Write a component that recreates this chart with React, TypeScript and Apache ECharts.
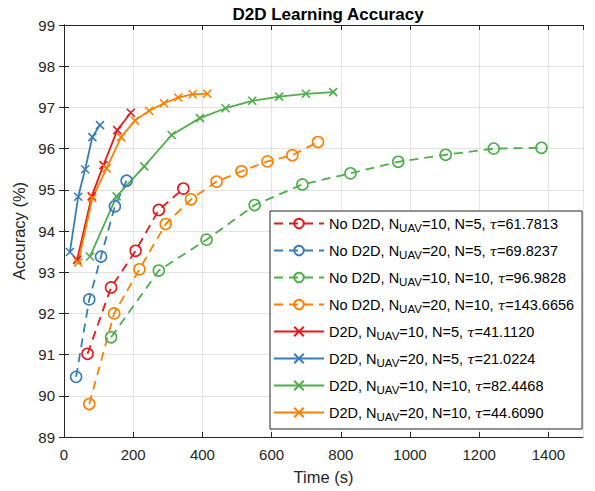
import React, { useEffect, useRef } from "react";
import * as echarts from "echarts";

const COLORS = { red: "#E41A1C", blue: "#377EB8", green: "#4DAF4A", orange: "#FF7F00" };

// No D2D series
const noD2D_10_5_x = [68, 136, 207, 274, 345];
const noD2D_10_5_y = [91.02, 92.63, 93.52, 94.51, 95.03];
const noD2D_20_5_x = [35, 73, 107, 147, 181];
const noD2D_20_5_y = [90.46, 92.34, 93.38, 94.6, 95.22];
const noD2D_10_10_x = [136, 274, 412, 551, 689, 828, 966, 1103, 1242, 1380];
const noD2D_10_10_y = [91.42, 93.04, 93.79, 94.63, 95.13, 95.4, 95.68, 95.85, 96.0, 96.02];
const noD2D_20_10_x = [73, 145, 218, 294, 367, 441, 513, 588, 660, 734];
const noD2D_20_10_y = [89.8, 92.0, 93.07, 94.17, 94.77, 95.2, 95.45, 95.69, 95.84, 96.16];

// D2D series
const d2d_10_5_x = [38, 80, 114, 154, 193];
const d2d_10_5_y = [93.3, 94.84, 95.6, 96.45, 96.87];
const d2d_20_5_x = [17, 41, 61, 82, 104];
const d2d_20_5_y = [93.49, 94.83, 95.5, 96.28, 96.57];
const d2d_10_10_x = [75, 152, 232, 311, 393, 467, 544, 622, 699, 778];
const d2d_10_10_y = [93.38, 94.84, 95.57, 96.33, 96.74, 96.98, 97.16, 97.26, 97.33, 97.37];
const d2d_20_10_x = [41, 82, 123, 165, 205, 246, 289, 330, 372, 414];
const d2d_20_10_y = [93.24, 94.8, 95.52, 96.28, 96.68, 96.92, 97.1, 97.24, 97.32, 97.33];

const legendNames = [
  "No D2D, N{sub|UAV}=10, N=5, {tau|τ}=61.7813",
  "No D2D, N{sub|UAV}=20, N=5, {tau|τ}=69.8237",
  "No D2D, N{sub|UAV}=10, N=10, {tau|τ}=96.9828",
  "No D2D, N{sub|UAV}=20, N=10, {tau|τ}=143.6656",
  "D2D, N{sub|UAV}=10, N=5, {tau|τ}=41.1120",
  "D2D, N{sub|UAV}=20, N=5, {tau|τ}=21.0224",
  "D2D, N{sub|UAV}=10, N=10, {tau|τ}=82.4468",
  "D2D, N{sub|UAV}=20, N=10, {tau|τ}=44.6090",
];

const xTicks = { min: 0, max: 1500, interval: 200 };
const yTicks = { min: 89, max: 99, interval: 1 };

const CROSS = "path://M0,0L10,10M10,0L0,10";

function zip(xs: number[], ys: number[]) {
  return xs.map((x, i) => [x, ys[i]]);
}

export default function App() {
  const ref = useRef<HTMLDivElement>(null);
  useEffect(() => {
    if (!ref.current) return;
    const chart = echarts.init(ref.current, null, { renderer: "svg" });
    const font = "Liberation Sans";
    const dashed = (name: string, color: string, xs: number[], ys: number[]) => ({
      name,
      type: "line",
      data: zip(xs, ys),
      symbol: "circle",
      symbolSize: 11,
      lineStyle: { color, width: 1.8, type: [9, 6] },
      itemStyle: { color: "none", borderColor: color, borderWidth: 1.6 },
    });
    const solid = (name: string, color: string, xs: number[], ys: number[]) => ({
      name,
      type: "line",
      data: zip(xs, ys),
      symbol: CROSS,
      symbolSize: 8,
      lineStyle: { color, width: 1.8, type: "solid" },
      itemStyle: { color, borderColor: color, borderWidth: 1.6 },
    });
    const axisLine = { show: true, lineStyle: { color: "#262626", width: 1 } };
    const splitLine = { show: true, lineStyle: { color: "#e3e3e3", width: 1 } };
    const plain = (v: number) => String(v);
    chart.setOption({
      animation: false,
      backgroundColor: "#ffffff",
      title: {
        text: "D2D Learning Accuracy",
        left: 323,
        textAlign: "center",
        top: 1,
        textStyle: { fontFamily: font, fontSize: 17, fontWeight: "bold", color: "#000" },
      },
      grid: { left: 64, right: 12, top: 25, bottom: 54 },
      legend: {
        orient: "vertical",
        left: 270,
        top: 211,
        width: 306,
        itemWidth: 50,
        itemHeight: 12,
        itemGap: 6,
        padding: [2, 8, 6, 3],
        borderColor: "#262626",
        borderWidth: 1,
        backgroundColor: "#ffffff",
        data: legendNames,
        textStyle: {
          fontFamily: font,
          fontSize: 14.5,
          color: "#000",
          lineHeight: 18,
          rich: {
            sub: { fontFamily: font, fontSize: 11.5, color: "#000", padding: [9, 0, 0, 0], lineHeight: 18 },
            tau: { fontFamily: "DejaVu Serif", fontStyle: "italic", fontSize: 13.5, color: "#000", lineHeight: 18 },
          },
        },
      },
      xAxis: [
        {
          type: "value",
          ...xTicks,
          position: "bottom",
          axisLine,
          axisTick: { show: true, inside: true, length: 5, lineStyle: { color: "#262626" } },
          axisLabel: { fontFamily: font, fontSize: 15, color: "#262626", margin: 10, showMaxLabel: false, formatter: plain },
          splitLine,
          name: "Time (s)",
          nameLocation: "middle",
          nameGap: 31,
          nameTextStyle: { fontFamily: font, fontSize: 16.5, color: "#262626" },
        },
        {
          type: "value",
          ...xTicks,
          position: "top",
          axisLine,
          axisTick: { show: true, inside: true, length: 5, lineStyle: { color: "#262626" } },
          axisLabel: { show: false },
          splitLine: { show: false },
        },
      ],
      yAxis: [
        {
          type: "value",
          ...yTicks,
          position: "left",
          axisLine,
          axisTick: { show: true, inside: true, length: 5, lineStyle: { color: "#262626" } },
          axisLabel: { fontFamily: font, fontSize: 15, color: "#262626", margin: 9, formatter: plain },
          splitLine,
          name: "Accuracy (%)",
          nameLocation: "middle",
          nameGap: 30,
          nameTextStyle: { fontFamily: font, fontSize: 16.5, color: "#262626" },
        },
        {
          type: "value",
          ...yTicks,
          position: "right",
          axisLine,
          axisTick: { show: true, inside: true, length: 5, lineStyle: { color: "#262626" } },
          axisLabel: { show: false },
          splitLine: { show: false },
        },
      ],
      series: [
        dashed(legendNames[0], COLORS.red, noD2D_10_5_x, noD2D_10_5_y),
        dashed(legendNames[1], COLORS.blue, noD2D_20_5_x, noD2D_20_5_y),
        dashed(legendNames[2], COLORS.green, noD2D_10_10_x, noD2D_10_10_y),
        dashed(legendNames[3], COLORS.orange, noD2D_20_10_x, noD2D_20_10_y),
        solid(legendNames[4], COLORS.red, d2d_10_5_x, d2d_10_5_y),
        solid(legendNames[5], COLORS.blue, d2d_20_5_x, d2d_20_5_y),
        solid(legendNames[6], COLORS.green, d2d_10_10_x, d2d_10_10_y),
        solid(legendNames[7], COLORS.orange, d2d_20_10_x, d2d_20_10_y),
      ],
    });
    return () => chart.dispose();
  }, []);
  return <div ref={ref} style={{ position: "fixed", top: 0, left: 0, width: 595, height: 491 }} />;
}
